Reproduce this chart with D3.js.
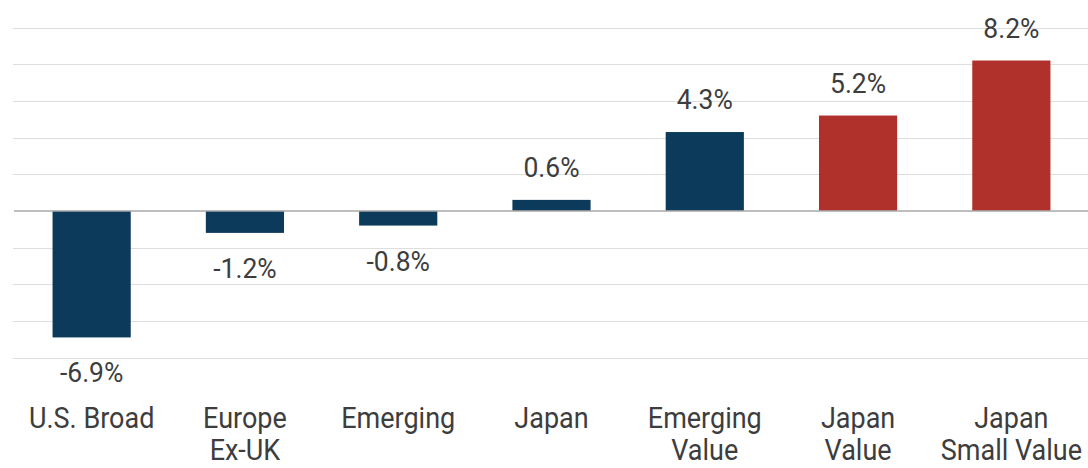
<!DOCTYPE html>
<html>
<head>
<meta charset="utf-8">
<script src="https://cdn.jsdelivr.net/npm/d3@7/dist/d3.min.js"></script>
<style>
  html, body { margin: 0; padding: 0; background: #ffffff; }
  svg { display: block; }
  text { font-family: Roboto, "Open Sans", sans-serif; fill: #3d3d3d; }
</style>
</head>
<body>
<svg id="chart" width="1088" height="468"></svg>
<script>
// Returns by index group, in percent
const categories = ["U.S. Broad", "Europe Ex-UK", "Emerging", "Japan", "Emerging Value", "Japan Value", "Japan Small Value"];
const labelLines = [["U.S. Broad"], ["Europe", "Ex-UK"], ["Emerging"], ["Japan"], ["Emerging", "Value"], ["Japan", "Value"], ["Japan", "Small Value"]];
const values = [-6.9, -1.2, -0.8, 0.6, 4.3, 5.2, 8.2];
const highlighted = [false, false, false, false, false, true, true];
const gridTicks = [-8, -6, -4, -2, 0, 2, 4, 6, 8, 10];

const NAVY = "#0c3a5b";
const RED = "#b0312b";
const SX_CAT = 0.9;    // horizontal squeeze for category labels
const SX_VAL = 0.98;   // horizontal squeeze for value labels

const svg = d3.select("#chart");

const x = d3.scaleBand()
  .domain(categories)
  .range([15, 1088])
  .paddingInner(0.49)
  .paddingOuter(0.245);

const y = d3.scaleLinear()
  .domain([-8, 10])
  .range([357.6, 27.5]);

// horizontal gridlines
svg.append("g")
  .selectAll("line")
  .data(gridTicks.filter(d => d !== 0))
  .join("line")
  .attr("x1", 13)
  .attr("x2", 1088)
  .attr("y1", d => Math.round(y(d)) + 0.5)
  .attr("y2", d => Math.round(y(d)) + 0.5)
  .attr("stroke", "#dedede")
  .attr("stroke-width", 1.2);

// bars
svg.append("g")
  .selectAll("rect")
  .data(values)
  .join("rect")
  .attr("x", (d, i) => x(categories[i]))
  .attr("width", x.bandwidth())
  .attr("y", d => y(Math.max(0, d)))
  .attr("height", d => Math.abs(y(d) - y(0)))
  .attr("fill", (d, i) => highlighted[i] ? RED : NAVY);

// zero line
svg.append("line")
  .attr("x1", 14)
  .attr("x2", 1088)
  .attr("y1", y(0))
  .attr("y2", y(0))
  .attr("stroke", "#a9a9a9")
  .attr("stroke-width", 1.5);

// value labels
svg.append("g")
  .selectAll("text")
  .data(values)
  .join("text")
  .attr("transform", (d, i) => {
    const cx = x(categories[i]) + x.bandwidth() / 2;
    const ty = d >= 0 ? y(d) - 23 : y(d) + 45;
    return `translate(${cx},${ty}) scale(${SX_VAL},1)`;
  })
  .attr("text-anchor", "middle")
  .style("font-size", "27px")
  .text(d => d.toFixed(1) + "%");

// category labels
const cat = svg.append("g")
  .selectAll("g")
  .data(labelLines)
  .join("g")
  .attr("transform", (d, i) => `translate(${x(categories[i]) + x.bandwidth() / 2},0)`);

cat.selectAll("text")
  .data(d => d)
  .join("text")
  .attr("transform", (d, j) => `translate(0,${428 + j * 32}) scale(${SX_CAT},1)`)
  .attr("text-anchor", "middle")
  .style("font-size", "30px")
  .text(d => d);
</script>
</body>
</html>
